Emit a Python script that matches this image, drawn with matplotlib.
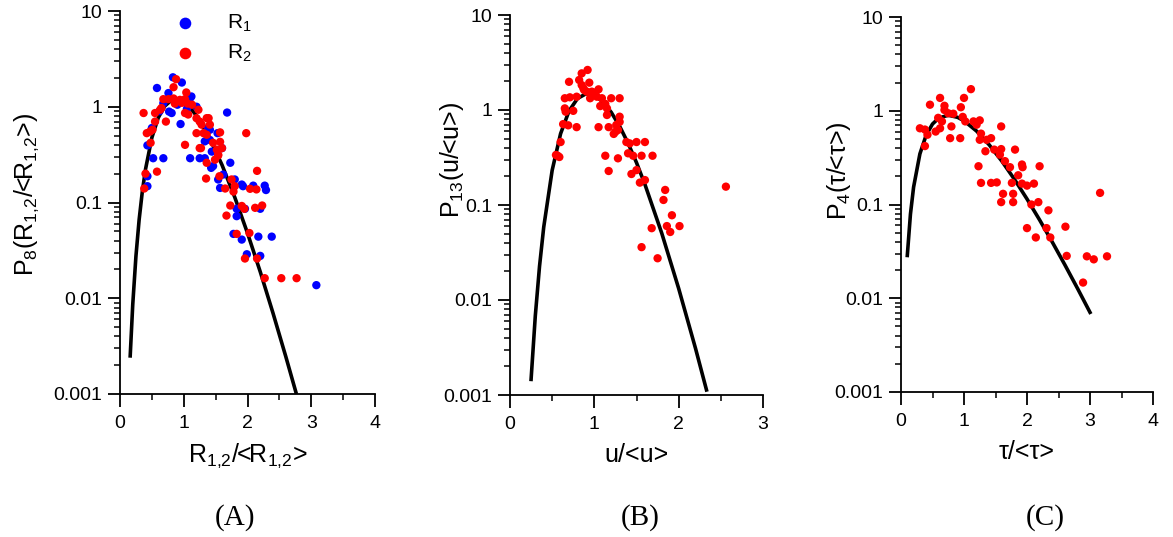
import matplotlib
matplotlib.use("Agg")
import matplotlib.pyplot as plt
from matplotlib.ticker import FixedLocator, FixedFormatter, NullFormatter

plt.rcParams['font.family'] = ['Liberation Sans', 'DejaVu Sans']
plt.rcParams['mathtext.fontset'] = 'custom'
plt.rcParams['mathtext.rm'] = 'Liberation Sans'
plt.rcParams['mathtext.it'] = 'Liberation Sans:italic'
plt.rcParams['mathtext.bf'] = 'Liberation Sans:bold'

# ---------------- Panel A data ----------------
r1_x = [0.83, 0.97, 0.58, 0.76, 1.10, 0.68, 0.81, 1.68, 0.95, 0.50, 0.52, 0.68,
        1.10, 1.25, 1.33, 0.43, 1.33, 1.53, 1.60, 1.44, 1.73, 1.46, 1.54, 1.57,
        1.93, 2.09, 2.27, 2.29, 0.43, 0.43, 1.12, 1.83, 1.96, 2.20, 1.83, 1.78,
        1.91, 2.17, 2.38, 1.99, 2.20, 3.08, 1.00, 1.20, 0.90, 1.05, 1.38, 1.41,
        0.62, 0.77, 1.41, 1.62, 1.43, 1.80, 1.91]
r1_y = [2.03, 1.79, 1.57, 1.39, 1.23, 1.09, 0.86, 0.87, 0.66, 0.60, 0.29, 0.29,
        0.29, 0.29, 0.29, 0.395, 0.435, 0.53, 0.37, 0.34, 0.26, 0.24, 0.174, 0.142,
        0.148, 0.15, 0.15, 0.135, 0.188, 0.148, 1.28, 0.086, 0.086, 0.086, 0.072, 0.047,
        0.041, 0.044, 0.044, 0.0288, 0.0277, 0.0137, 1.15, 1.00, 1.05, 0.95, 0.60, 0.45,
        0.90, 0.89, 0.575, 0.196, 0.23, 0.174, 0.154]

r2_x = [0.88, 0.84, 1.04, 0.68, 0.76, 0.84, 0.94, 1.02, 0.86, 0.97, 1.06, 1.13,
        0.37, 0.55, 0.63, 0.65, 1.02, 1.07, 1.23, 0.55, 0.72, 1.20, 1.25, 1.39,
        1.41, 0.42, 0.47, 0.51, 1.20, 1.31, 1.36, 1.57, 1.98, 0.48, 1.02, 1.25,
        1.46, 1.52, 1.54, 1.36, 0.58, 0.40, 1.35, 1.56, 1.75, 2.15, 1.65, 1.78,
        2.04, 2.14, 0.38, 1.80, 1.73, 1.91, 1.95, 2.12, 2.23, 1.67, 1.83, 2.03,
        1.96, 2.15, 2.27, 2.53, 2.77, 1.36, 1.28, 1.57, 1.60, 1.54, 1.49, 1.27]
r2_y = [1.94, 1.60, 1.41, 1.20, 1.20, 1.22, 1.18, 1.20, 1.08, 1.10, 1.08, 1.05,
        0.86, 0.86, 0.93, 0.97, 0.86, 0.83, 0.93, 0.70, 0.70, 0.76, 0.70, 0.76,
        0.65, 0.53, 0.55, 0.575, 0.53, 0.53, 0.51, 0.54, 0.53, 0.42, 0.40, 0.37,
        0.42, 0.356, 0.316, 0.26, 0.21, 0.20, 0.178, 0.188, 0.174, 0.214, 0.14, 0.13,
        0.139, 0.137, 0.14, 0.148, 0.093, 0.092, 0.086, 0.088, 0.093, 0.073, 0.047, 0.048,
        0.026, 0.026, 0.0162, 0.0162, 0.0162, 0.76, 0.65, 0.43, 0.37, 0.31, 0.28, 0.37]

fitA_x = [0.16, 0.2, 0.25, 0.3, 0.35, 0.4, 0.5, 0.6, 0.7, 0.8, 0.9, 1.0, 1.1, 1.2,
          1.4, 1.6, 1.8, 2.0, 2.2, 2.4, 2.6, 2.76]
fitA_y = [0.0025, 0.0086, 0.0275, 0.066, 0.130, 0.222, 0.476, 0.767, 1.014, 1.160,
          1.189, 1.117, 0.978, 0.807, 0.480, 0.247, 0.1135, 0.0479, 0.0189, 0.0070,
          0.00247, 0.00104]

# ---------------- Panel B data ----------------
u_x = [0.92, 0.85, 0.70, 0.82, 0.85, 0.87, 0.94, 0.91, 0.97, 1.05, 0.95, 1.03,
       1.09, 0.65, 0.71, 0.79, 1.20, 1.30, 1.07, 1.13, 1.15, 0.65, 0.66, 0.75,
       1.15, 1.30, 1.30, 0.63, 0.69, 0.79, 1.05, 1.17, 1.26, 1.28, 1.23, 1.25,
       0.60, 0.545, 0.585, 0.565, 1.13, 1.28, 1.38, 1.42, 1.50, 1.60, 1.40, 1.46,
       1.56, 1.69, 1.50, 1.44, 1.17, 1.54, 1.60, 1.84, 1.82, 1.92, 1.86, 1.90,
       2.01, 1.68, 1.56, 1.75, 2.56, 0.88, 0.99, 1.01]
u_y = [2.64, 2.43, 1.98, 2.07, 1.83, 1.69, 1.94, 1.56, 1.56, 1.65, 1.33, 1.38,
       1.33, 1.33, 1.36, 1.38, 1.33, 1.33, 1.10, 1.16, 1.04, 1.04, 0.96, 0.98,
       0.886, 0.85, 0.75, 0.71, 0.69, 0.66, 0.66, 0.66, 0.695, 0.616, 0.56, 0.59,
       0.46, 0.336, 0.32, 0.33, 0.33, 0.31, 0.46, 0.445, 0.46, 0.46, 0.35, 0.33,
       0.33, 0.33, 0.233, 0.212, 0.228, 0.172, 0.183, 0.144, 0.113, 0.078, 0.060, 0.052,
       0.060, 0.057, 0.036, 0.0275, 0.156, 1.62, 1.48, 1.52]

fitB_x = [0.25, 0.3, 0.35, 0.4, 0.5, 0.6, 0.7, 0.8, 0.9, 1.0, 1.1, 1.2, 1.3, 1.4,
          1.5, 1.6, 1.8, 2.0, 2.2, 2.33]
fitB_y = [0.00146, 0.0068, 0.0226, 0.0586, 0.232, 0.564, 0.977, 1.321, 1.480, 1.429,
          1.222, 0.947, 0.675, 0.447, 0.279, 0.1648, 0.0503, 0.01323, 0.00309, 0.00113]

# ---------------- Panel C data ----------------
t_x = [1.11, 0.62, 1.00, 0.46, 0.69, 0.69, 0.95, 0.75, 0.83, 0.59, 0.65, 0.98,
       1.02, 1.15, 1.25, 1.20, 1.59, 0.30, 0.38, 0.55, 0.62, 0.80, 0.42, 1.27,
       0.78, 0.94, 1.25, 1.36, 1.43, 0.38, 1.34, 1.48, 1.59, 1.57, 1.81, 1.65,
       1.73, 1.92, 1.93, 2.20, 1.23, 1.86, 1.27, 1.43, 1.52, 1.76, 1.92, 2.00,
       2.11, 1.62, 1.78, 1.59, 1.78, 2.07, 2.18, 2.34, 3.16, 2.00, 2.31, 2.61,
       2.14, 2.37, 2.63, 2.95, 3.06, 3.27, 2.89]
t_y = [1.70, 1.37, 1.37, 1.16, 1.13, 1.02, 1.09, 0.94, 0.93, 0.84, 0.77, 0.86,
       0.77, 0.77, 0.79, 0.71, 0.68, 0.65, 0.63, 0.60, 0.65, 0.68, 0.555, 0.57,
       0.51, 0.51, 0.49, 0.49, 0.51, 0.42, 0.37, 0.385, 0.39, 0.34, 0.385, 0.29,
       0.25, 0.267, 0.25, 0.256, 0.256, 0.205, 0.17, 0.17, 0.172, 0.17, 0.167, 0.159,
       0.167, 0.13, 0.13, 0.106, 0.106, 0.100, 0.106, 0.0866, 0.133, 0.056, 0.056, 0.058,
       0.0445, 0.0445, 0.0283, 0.028, 0.026, 0.028, 0.0147]

fitC_x = [0.1, 0.15, 0.2, 0.3, 0.4, 0.5, 0.6, 0.75, 0.9, 1.0, 1.2, 1.4, 1.6, 1.8,
          2.0, 2.2, 2.4, 2.6, 2.8, 3.0]
fitC_y = [0.0286, 0.079, 0.1534, 0.347, 0.551, 0.722, 0.836, 0.896, 0.850, 0.782,
          0.607, 0.433, 0.2905, 0.186, 0.1145, 0.0685, 0.0399, 0.0228, 0.0128, 0.00707]

y_ticks = [0.001, 0.01, 0.1, 1, 10]
y_ticklabels = ['0.001', '0.01', '0.1', '1', '10']

W, H = 1173, 537
fig = plt.figure(figsize=(W / 100, H / 100), dpi=100)


def make_axes(l, r, t, b):
    return fig.add_axes([l / W, 1 - b / H, (r - l) / W, (b - t) / H])


axA = make_axes(120, 375, 11, 394)
axB = make_axes(510, 763, 15, 395)
axC = make_axes(901, 1153, 17, 392)

RED = '#ff0000'
BLUE = '#0000ff'
MS = 36
LABEL_FS = 18


def style(ax, xmax):
    ax.set_yscale('log')
    ax.set_ylim(0.001, 10)
    ax.set_xlim(0, xmax)
    for s in ['top', 'right']:
        ax.spines[s].set_visible(False)
    for s in ['left', 'bottom']:
        ax.spines[s].set_linewidth(1.3)
    ax.yaxis.set_major_locator(FixedLocator(y_ticks))
    ax.yaxis.set_major_formatter(FixedFormatter(y_ticklabels))
    minors = [m * d for d in [0.001, 0.01, 0.1, 1] for m in range(2, 10)]
    ax.yaxis.set_minor_locator(FixedLocator(minors))
    ax.yaxis.set_minor_formatter(NullFormatter())
    ax.xaxis.set_major_locator(FixedLocator(list(range(0, xmax + 1))))
    ax.xaxis.set_minor_locator(FixedLocator([i + 0.5 for i in range(0, xmax)]))
    ax.tick_params(which='major', direction='out', length=9, width=1.3,
                   labelsize=14, colors='black')
    ax.tick_params(which='minor', direction='out', length=4.5, width=1.1)
    ax.tick_params(axis='x', which='major', pad=6)
    ax.tick_params(axis='y', which='major', pad=4)


# Panel A
style(axA, 4)
axA.plot(fitA_x, fitA_y, color='black', lw=2.6, zorder=2)
hb = axA.scatter(r1_x, r1_y, s=MS, color=BLUE, edgecolors='none', zorder=3)
hr = axA.scatter(r2_x, r2_y, s=MS, color=RED, edgecolors='none', zorder=4)
axA.set_xlabel(r'R$_{1{,}2}$/<R$_{1{,}2}$>', fontsize=LABEL_FS, labelpad=7)
axA.set_ylabel(r'P$_8$(R$_{1{,}2}$/<R$_{1{,}2}$>)', fontsize=LABEL_FS)
axA.yaxis.set_label_coords(-0.31, 0.52)
leg = axA.legend([hb, hr], [r'R$_1$', r'R$_2$'], loc='upper left',
                 bbox_to_anchor=(0.175, 0.995), frameon=False, fontsize=15,
                 markerscale=1.4, scatterpoints=1, handletextpad=1.0,
                 labelspacing=0.42, borderpad=0.0, borderaxespad=0.0)

# Panel B
style(axB, 3)
axB.plot(fitB_x, fitB_y, color='black', lw=2.6, zorder=2)
axB.scatter(u_x, u_y, s=MS, color=RED, edgecolors='none', zorder=3)
axB.set_xlabel('u/<u>', fontsize=LABEL_FS, labelpad=7)
axB.set_ylabel(r'P$_{13}$(u/<u>)', fontsize=LABEL_FS)
axB.yaxis.set_label_coords(-0.175, 0.62)

# Panel C
style(axC, 4)
axC.plot(fitC_x, fitC_y, color='black', lw=2.6, zorder=2)
axC.scatter(t_x, t_y, s=MS, color=RED, edgecolors='none', zorder=3)
axC.set_xlabel('τ/<τ>', fontsize=LABEL_FS, labelpad=7)
axC.set_ylabel(r'P$_4$(τ/<τ>)', fontsize=LABEL_FS)
axC.yaxis.set_label_coords(-0.19, 0.59)

# Panel captions
for label, xc in [('(A)', 235), ('(B)', 640), ('(C)', 1045)]:
    fig.text(xc / W, 1 - 518 / H, label, ha='center', va='center',
             fontsize=21, family='Liberation Serif')

fig.savefig('out.png', dpi=100)
